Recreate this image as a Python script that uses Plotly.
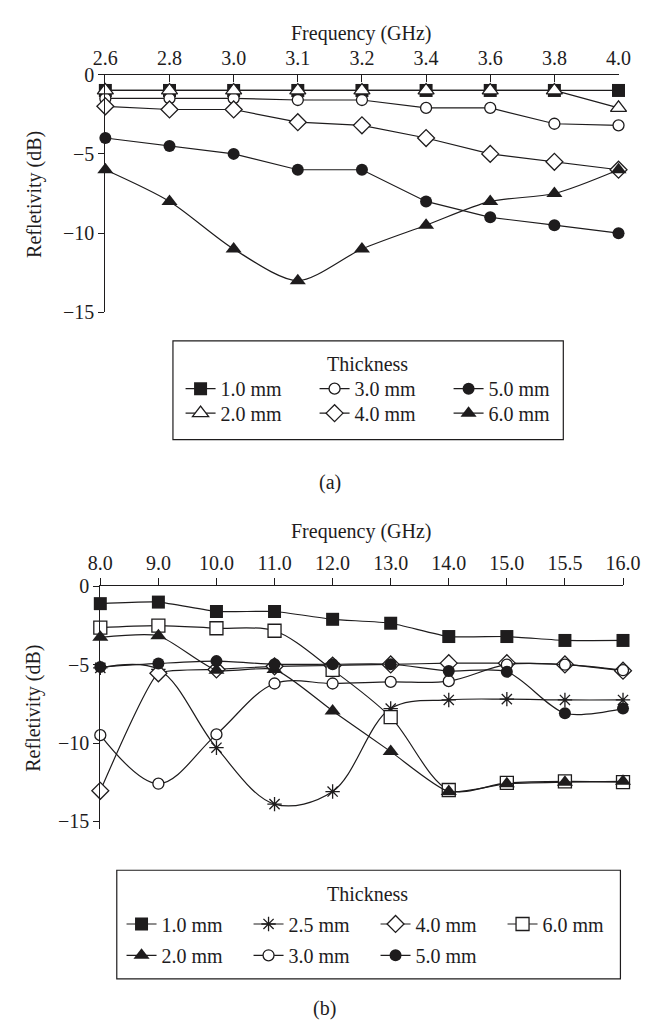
import plotly.graph_objects as go

W, H = 647, 1029


def fx(x):
    return x / W


def fy(y):
    return 1 - y / H


# ---------------- data: chart (a) ----------------
freq_a = ["2.6", "2.8", "3.0", "3.1", "3.2", "3.4", "3.6", "3.8", "4.0"]
a_1_0 = [-1.0, -1.0, -1.0, -1.0, -1.0, -1.0, -1.0, -1.0, -1.0]
a_2_0 = [-1.0, -1.0, -1.0, -1.0, -1.0, -1.0, -1.0, -1.0, -2.1]
a_3_0 = [-1.5, -1.5, -1.5, -1.6, -1.6, -2.1, -2.1, -3.1, -3.2]
a_4_0 = [-2.0, -2.2, -2.2, -3.0, -3.2, -4.0, -5.0, -5.5, -6.0]
a_5_0 = [-4.0, -4.5, -5.0, -6.0, -6.0, -8.0, -9.0, -9.5, -10.0]
a_6_0 = [-6.0, -8.0, -11.0, -13.0, -11.0, -9.5, -8.0, -7.5, -6.0]

# ---------------- data: chart (b) ----------------
freq_b = ["8.0", "9.0", "10.0", "11.0", "12.0", "13.0", "14.0", "15.0", "15.5", "16.0"]
b_1_0 = [-1.1, -1.0, -1.6, -1.6, -2.1, -2.35, -3.2, -3.2, -3.45, -3.45]
b_2_0 = [-3.25, -3.15, -5.35, -5.3, -7.95, -10.55, -13.1, -12.6, -12.5, -12.45]
b_2_5 = [-5.2, -5.3, -10.3, -13.9, -13.1, -7.8, -7.25, -7.2, -7.25, -7.25]
b_3_0 = [-9.5, -12.6, -9.45, -6.2, -6.2, -6.1, -6.05, -5.0, -5.0, -5.35]
b_4_0 = [-13.05, -5.55, -5.3, -5.1, -5.05, -4.98, -4.9, -4.9, -4.98, -5.38]
b_5_0 = [-5.15, -4.92, -4.77, -4.97, -4.97, -4.97, -5.4, -5.45, -8.1, -7.8]
b_6_0 = [-2.63, -2.5, -2.67, -2.83, -5.33, -8.35, -13.0, -12.55, -12.45, -12.5]

INK = "#1e1c1d"
FONT = "Liberation Serif"
FS = 20

MK = {
    "fsq": dict(symbol="square", size=13, color=INK, line=dict(width=0)),
    "osq": dict(symbol="square", size=13, color="white", line=dict(color=INK, width=1.3)),
    "otri": dict(symbol="triangle-up", size=14, color="white", line=dict(color=INK, width=1.3)),
    "ftri": dict(symbol="triangle-up", size=14, color=INK, line=dict(width=0)),
    "ocir": dict(symbol="circle", size=11, color="white", line=dict(color=INK, width=1.3)),
    "fcir": dict(symbol="circle", size=12, color=INK, line=dict(width=0)),
    "odia": dict(symbol="diamond", size=13, color="white", line=dict(color=INK, width=1.3)),
    "star": dict(symbol="asterisk-open", size=12, color=INK, line=dict(color=INK, width=1.3)),
}

fig = go.Figure()


def add(x, y, name, mk, xa, ya, legend, smooth=0.0):
    line = dict(color=INK, width=1.2)
    if smooth > 0:
        line.update(shape="spline", smoothing=smooth)
    fig.add_trace(go.Scatter(
        x=x, y=y, name=name, mode="lines+markers", marker=MK[mk], line=line,
        xaxis=xa, yaxis=ya, legend=legend, cliponaxis=False,
    ))


# chart (a)
add(freq_a, a_1_0, "1.0 mm", "fsq", "x", "y", "legend")
add(freq_a, a_3_0, "3.0 mm", "ocir", "x", "y", "legend")
add(freq_a, a_5_0, "5.0 mm", "fcir", "x", "y", "legend")
add(freq_a, a_2_0, "2.0 mm", "otri", "x", "y", "legend2")
add(freq_a, a_4_0, "4.0 mm", "odia", "x", "y", "legend2")
add(freq_a, a_6_0, "6.0 mm", "ftri", "x", "y", "legend2", smooth=0.8)

# chart (b)
add(freq_b, b_1_0, "1.0 mm", "fsq", "x2", "y2", "legend3", smooth=0.5)
add(freq_b, b_2_5, "2.5 mm", "star", "x2", "y2", "legend3", smooth=1.0)
add(freq_b, b_4_0, "4.0 mm", "odia", "x2", "y2", "legend3", smooth=0.4)
add(freq_b, b_6_0, "6.0 mm", "osq", "x2", "y2", "legend3", smooth=0.9)
add(freq_b, b_2_0, "2.0 mm", "ftri", "x2", "y2", "legend4", smooth=0.6)
add(freq_b, b_3_0, "3.0 mm", "ocir", "x2", "y2", "legend4", smooth=1.0)
add(freq_b, b_5_0, "5.0 mm", "fcir", "x2", "y2", "legend4", smooth=0.8)

axis_common = dict(
    showline=True, linecolor=INK, linewidth=1.3, showgrid=False, zeroline=False,
    tickcolor=INK, tickwidth=1.3, tickfont=dict(family=FONT, size=FS, color=INK),
)

yt_vals = [0, -5, -10, -15]
yt_text = ["0", "\u22125", "\u221210", "\u221215"]


def ann(text, x, y, angle=0):
    return dict(text=text, x=fx(x), y=fy(y), xref="paper", yref="paper", showarrow=False,
                xanchor="center", yanchor="middle", textangle=angle,
                font=dict(family=FONT, size=FS, color=INK))


leg_common = dict(orientation="h", xanchor="left", yanchor="top", bgcolor="rgba(0,0,0,0)",
                  borderwidth=0, font=dict(family=FONT, size=FS, color=INK))

fig.update_layout(
    width=W, height=H,
    margin=dict(l=0, r=0, t=0, b=0),
    paper_bgcolor="white", plot_bgcolor="white",
    font=dict(family=FONT, size=FS, color=INK),
    xaxis=dict(axis_common, type="category", categoryorder="array", categoryarray=freq_a,
               range=[0, len(freq_a) - 1], side="top", anchor="y",
               domain=[fx(97), fx(636)], ticks="inside", ticklen=7),
    yaxis=dict(axis_common, range=[-15, 0], anchor="x", domain=[fy(308), fy(65)],
               tickvals=yt_vals, ticktext=yt_text, ticks="outside", ticklen=6),
    xaxis2=dict(axis_common, type="category", categoryorder="array", categoryarray=freq_b,
                range=[0, len(freq_b) - 1], side="top", anchor="y2",
                domain=[fx(91.7), fx(640.7)], ticks="outside", ticklen=7),
    yaxis2=dict(axis_common, range=[-15.5, 0], anchor="x2", domain=[fy(836), fy(588)],
                tickvals=yt_vals, ticktext=yt_text, ticks="outside", ticklen=6),
    legend=dict(leg_common, x=fx(176), y=fy(366), entrywidth=89),
    legend2=dict(leg_common, x=fx(176), y=fy(391), entrywidth=89),
    legend3=dict(leg_common, x=fx(114), y=fy(913), entrywidth=82),
    legend4=dict(leg_common, x=fx(114), y=fy(945), entrywidth=82),
    shapes=[
        dict(type="rect", xref="paper", yref="paper", x0=fx(168), x1=fx(578), y0=fy(438), y1=fy(337),
             line=dict(color=INK, width=1.2)),
        dict(type="rect", xref="paper", yref="paper", x0=fx(109), x1=fx(638), y0=fy(989), y1=fy(878),
             line=dict(color=INK, width=1.2)),
    ],
    annotations=[
        ann("Frequency (GHz)", 366, 23),
        ann("Frequency (GHz)", 366, 532),
        ann("Refletivity (dB)", 22, 187, -90),
        ann("Refletivity (dB)", 22, 712, -90),
        ann("Thickness", 372, 361),
        ann("Thickness", 372, 902),
        ann("(a)", 333, 482),
        ann("(b)", 327, 1019),
    ],
)

fig.write_html("out.html")
